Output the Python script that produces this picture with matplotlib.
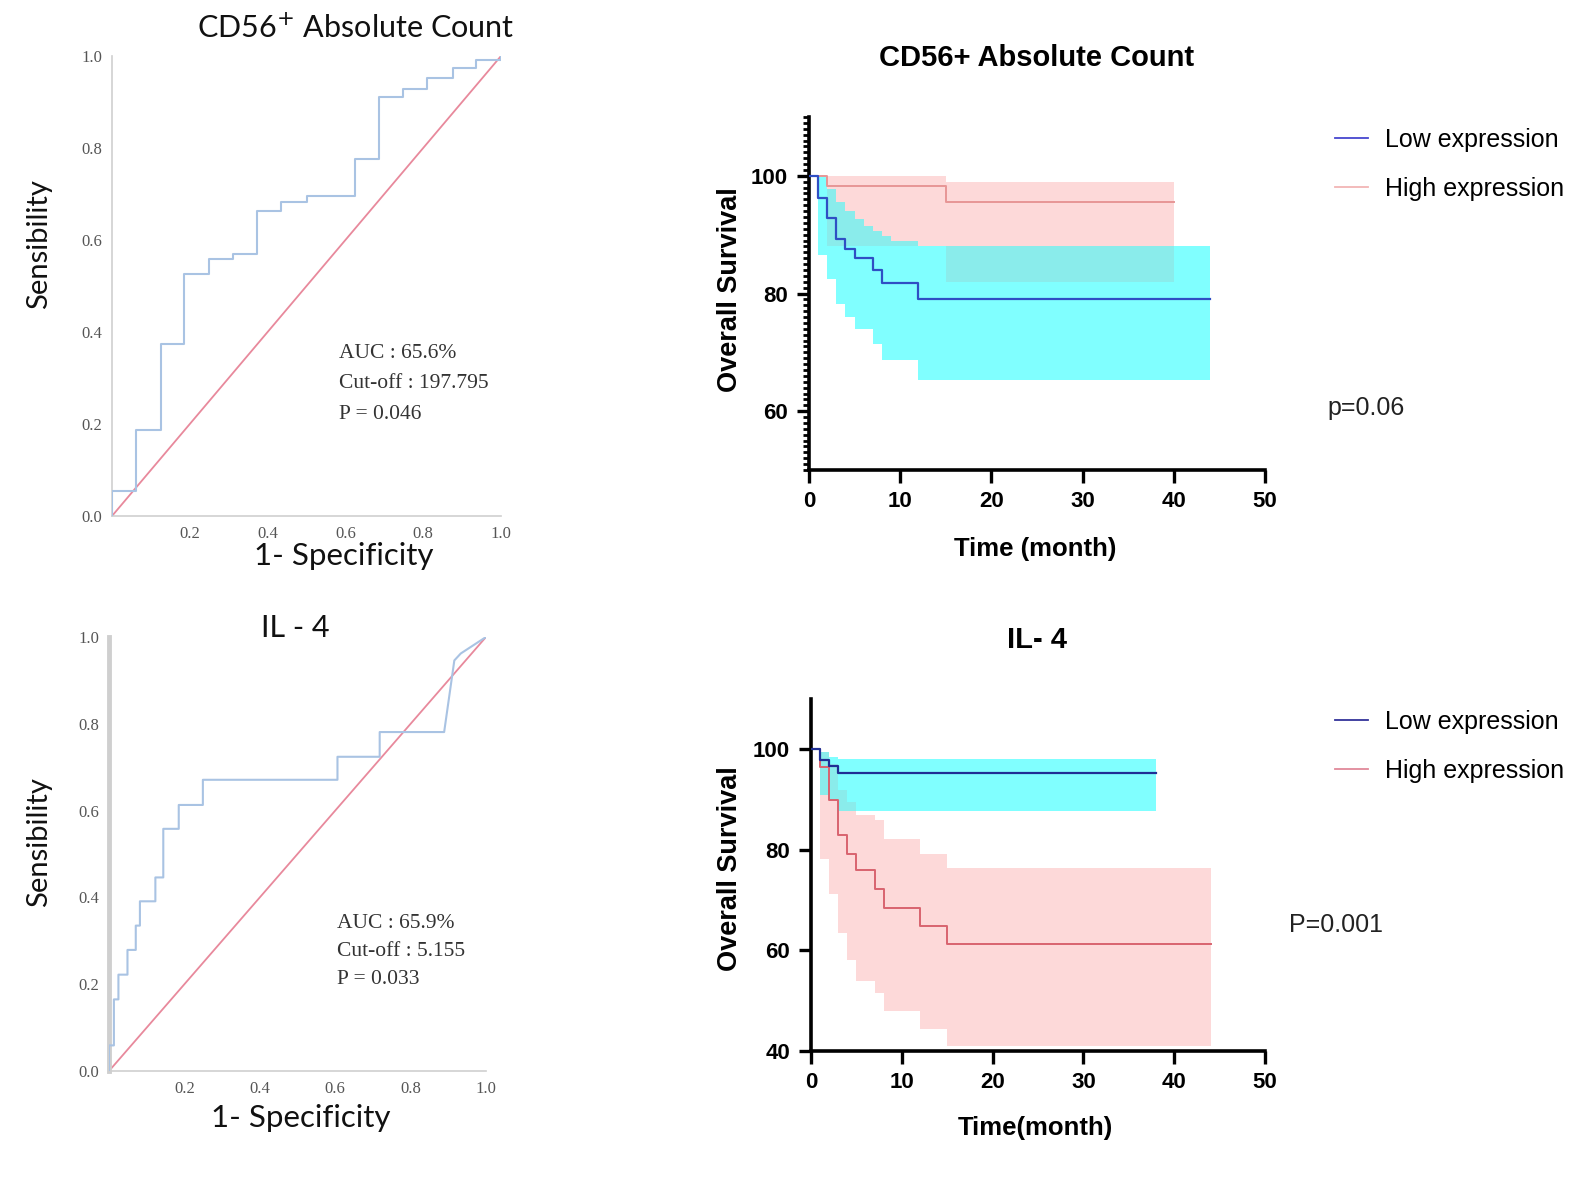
import numpy as np
import matplotlib
matplotlib.use("Agg")
import matplotlib.pyplot as plt
from matplotlib.lines import Line2D
from matplotlib.ticker import MultipleLocator

# ---------------- data ----------------
# ROC: CD56+ absolute count
roc1_fpr = [0, 0, 0.062, 0.062, 0.126, 0.126, 0.186, 0.186, 0.249, 0.249, 0.311, 0.311,
            0.373, 0.373, 0.435, 0.435, 0.500, 0.500, 0.624, 0.624, 0.687, 0.687, 0.749, 0.749,
            0.811, 0.811, 0.876, 0.876, 0.937, 0.937, 1.0, 1.0]
roc1_tpr = [0, 0.054, 0.054, 0.188, 0.188, 0.373, 0.373, 0.527, 0.527, 0.559, 0.559, 0.569,
            0.569, 0.663, 0.663, 0.683, 0.683, 0.696, 0.696, 0.776, 0.776, 0.910, 0.910, 0.929,
            0.929, 0.952, 0.952, 0.974, 0.974, 0.992, 0.992, 1.0]
roc1_stats = ["AUC : 65.6%", "Cut-off : 197.795", "P = 0.046"]

# ROC: IL-4
roc2_fpr = [0, 0, 0.013, 0.013, 0.025, 0.025, 0.049, 0.049, 0.071, 0.071, 0.082, 0.082,
            0.123, 0.123, 0.144, 0.144, 0.185, 0.185, 0.249, 0.249, 0.606, 0.606, 0.718, 0.718,
            0.889, 0.916, 0.933, 1.0]
roc2_tpr = [0, 0.059, 0.059, 0.165, 0.165, 0.222, 0.222, 0.279, 0.279, 0.335, 0.335, 0.391,
            0.391, 0.446, 0.446, 0.558, 0.558, 0.613, 0.613, 0.671, 0.671, 0.724, 0.724, 0.781,
            0.781, 0.946, 0.962, 1.0]
roc2_stats = ["AUC : 65.9%", "Cut-off : 5.155", "P = 0.033"]

# KM: CD56+ absolute count
km1_low_t = [0, 1, 2, 3, 4, 5, 7, 8, 12, 44]
km1_low_s = [100, 96.3, 92.8, 89.3, 87.5, 86.0, 84.0, 81.7, 79.1, 79.1]
km1_low_ci_t = [0, 1, 2, 3, 4, 5, 6, 7, 8, 9, 12, 44]
km1_low_up = [100, 99.8, 97.8, 95.5, 94.1, 92.6, 91.5, 90.7, 89.8, 88.9, 88.0, 88.0]
km1_low_lo = [100, 86.5, 82.5, 78.2, 76.0, 74.0, 74.0, 71.4, 68.7, 68.7, 65.3, 65.3]
km1_high_t = [0, 2, 15, 40]
km1_high_s = [100, 98.2, 95.5, 95.5]
km1_high_up = [100, 100, 98.9, 98.9]
km1_high_lo = [100, 88.0, 82.0, 82.0]
km1_p = "p=0.06"

# KM: IL-4
km2_low_t = [0, 1, 2, 3, 38]
km2_low_s = [100, 97.9, 96.7, 95.2, 95.2]
km2_low_up = [100, 99.5, 98.5, 98.1, 98.1]
km2_low_lo = [100, 90.9, 89.9, 87.7, 87.7]
km2_high_t = [0, 1, 2, 3, 4, 5, 7, 8, 12, 15, 44]
km2_high_s = [100, 96.5, 89.9, 82.9, 79.2, 76.0, 72.3, 68.5, 64.9, 61.3, 61.3]
km2_high_up = [100, 99.5, 97.0, 92.0, 89.5, 87.0, 86.0, 82.2, 79.2, 76.3, 76.3]
km2_high_lo = [100, 78.2, 71.2, 63.5, 58.0, 54.0, 51.5, 48.0, 44.3, 41.0, 41.0]
km2_p = "P=0.001"

legend_labels = ["Low expression", "High expression"]

# ---------------- styles ----------------
W, H = 1594, 1184
fig = plt.figure(figsize=(W / 100, H / 100), dpi=100)

ROC_FONT = ["Lato", "DejaVu Sans"]
SERIF = ["Liberation Serif", "DejaVu Serif"]
KM_FONT = ["Liberation Sans", "DejaVu Sans"]

CYAN = "#80ffff"
PINK = "#fdd9d9"
TEAL = "#8aeceb"


def fx(px):
    return px / W


def fy(py):
    return 1 - py / H


def roc_panel(rect, fpr, tpr, stats, title, title_xy, ylab_xy, xlab_xy, stat_xy,
              title_size, thick_left=False):
    ax = fig.add_axes(rect)
    ax.plot([0, 1], [0, 1], color="#e8899c", lw=1.3, zorder=2)
    ax.plot(fpr, tpr, color="#a9c3e3", lw=1.5, zorder=3)
    ax.set_xlim(0, 1)
    ax.set_ylim(0, 1)
    for s in ["top", "right"]:
        ax.spines[s].set_visible(False)
    ax.spines["bottom"].set_color("#cfcfcf")
    ax.spines["bottom"].set_linewidth(1.2)
    ax.spines["left"].set_color("#cfcfcf")
    ax.spines["left"].set_linewidth(3.5 if thick_left else 1.2)
    ax.set_xticks([0.2, 0.4, 0.6, 0.8, 1.0])
    ax.set_xticklabels(["0.2", "0.4", "0.6", "0.8", "1.0"])
    ax.set_yticks([0, 0.2, 0.4, 0.6, 0.8, 1.0])
    ax.set_yticklabels(["0.0", "0.2", "0.4", "0.6", "0.8", "1.0"])
    ax.tick_params(length=0, labelsize=12, labelcolor="#555555", pad=7)
    for lab in ax.get_xticklabels() + ax.get_yticklabels():
        lab.set_family(SERIF)
    fig.text(fx(title_xy[0]), fy(title_xy[1]), title, ha="center", va="center",
             fontsize=title_size, family=ROC_FONT, color="#111111")
    fig.text(fx(ylab_xy[0]), fy(ylab_xy[1]), "Sensibility", ha="center", va="center",
             rotation=90, fontsize=21, family=ROC_FONT, color="#111111")
    fig.text(fx(xlab_xy[0]), fy(xlab_xy[1]), "1- Specificity", ha="center", va="center",
             fontsize=22.5, family=ROC_FONT, color="#111111")
    for i, s in enumerate(stats):
        ax.text(stat_xy[0], stat_xy[1] - i * stat_xy[2], s, ha="left", va="center",
                fontsize=15.5, family=SERIF, color="#333333")
    return ax


def step_eval(t, v, grid):
    idx = np.searchsorted(np.asarray(t), grid, side="right") - 1
    idx = np.clip(idx, 0, len(v) - 1)
    return np.asarray(v)[idx]


def km_panel(rect, ylim, yticks, minor, low, high, low_col, high_col, title, xlabel, p_text,
             title_y, ylab_y, xlab_y, p_xy, leg_y, leg_cols):
    ax = fig.add_axes(rect)
    (lt, ls, lct, lup, llo), (ht, hs, hct, hup, hlo) = low, high
    ax.fill_between(hct, hlo, hup, step="post", color=PINK, lw=0, zorder=1)
    ax.fill_between(lct, llo, lup, step="post", color=CYAN, lw=0, zorder=2)
    # overlap of the two confidence bands
    end = min(lct[-1], hct[-1])
    grid = np.unique(np.concatenate([lct, hct]))
    grid = grid[grid <= end]
    lo = np.maximum(step_eval(lct, llo, grid), step_eval(hct, hlo, grid))
    up = np.minimum(step_eval(lct, lup, grid), step_eval(hct, hup, grid))
    up = np.maximum(up, lo)
    ax.fill_between(grid, lo, up, step="post", color=TEAL, lw=0, zorder=3)
    ax.step(ht, hs, where="post", color=high_col, lw=1.4, zorder=4)
    ax.step(lt, ls, where="post", color=low_col, lw=1.6, zorder=5)

    ax.set_xlim(0, 50)
    ax.set_ylim(*ylim)
    for s in ["top", "right"]:
        ax.spines[s].set_visible(False)
    for s in ["left", "bottom"]:
        ax.spines[s].set_linewidth(2.6)
        ax.spines[s].set_color("black")
    ax.set_xticks([0, 10, 20, 30, 40, 50])
    ax.set_yticks(yticks)
    if minor:
        ax.yaxis.set_minor_locator(MultipleLocator(1))
        ax.tick_params(axis="y", which="minor", length=4, width=2.0, direction="out")
    ax.tick_params(axis="both", which="major", length=9, width=2.4, direction="out",
                   labelsize=16, pad=6)
    for lab in ax.get_xticklabels() + ax.get_yticklabels():
        lab.set_family(KM_FONT)
        lab.set_fontweight("bold")
    fig.text(fx(1037), fy(title_y), title, ha="center", va="center", fontsize=21,
             fontweight="bold", family=KM_FONT)
    fig.text(fx(730), fy(ylab_y), "Overall Survival", ha="center", va="center",
             rotation=90, fontsize=19.5, fontweight="bold", family=KM_FONT)
    fig.text(fx(1035), fy(xlab_y), xlabel, ha="center", va="center",
             fontsize=18.5, fontweight="bold", family=KM_FONT)
    fig.text(fx(p_xy[0]), fy(p_xy[1]), p_text, ha="left", va="center", fontsize=18,
             family=KM_FONT, color="#222222")
    handles = [Line2D([], [], color=leg_cols[0], lw=1.3),
               Line2D([], [], color=leg_cols[1], lw=1.3)]
    fig.legend(handles, legend_labels, loc="upper left",
               bbox_to_anchor=(fx(1335), fy(leg_y)), bbox_transform=fig.transFigure,
               frameon=False, borderpad=0, borderaxespad=0, handlelength=1.3,
               handletextpad=0.7, labelspacing=1.0,
               prop={"family": KM_FONT, "size": 18})
    return ax


# ROC panels
roc_panel([fx(112), fy(516), fx(501) - fx(112), (516 - 56) / H],
          roc1_fpr, roc1_tpr, roc1_stats, r"CD56$^{+}$ Absolute Count",
          (356, 28), (39, 244), (344, 556), (0.584, 0.354, 0.067), 22)
roc_panel([fx(109), fy(1071), fx(486) - fx(109), (1071 - 637) / H],
          roc2_fpr, roc2_tpr, roc2_stats, "IL - 4",
          (295, 628), (39, 842), (301, 1118), (0.605, 0.341, 0.065), 22, thick_left=True)

# KM panels
km_panel([fx(809), fy(470), fx(1265) - fx(809), (470 - 117) / H], (50, 110), [60, 80, 100], True,
         (km1_low_t, km1_low_s, km1_low_ci_t, km1_low_up, km1_low_lo),
         (km1_high_t, km1_high_s, km1_high_t, km1_high_up, km1_high_lo),
         "#2f4fc4", "#e79696", "CD56+ Absolute Count", "Time (month)", km1_p,
         58, 290, 549, (1327, 408), 128, ("#4747cf", "#f2b5b5"))
km_panel([fx(811), fy(1051), fx(1265) - fx(811), (1051 - 699) / H], (40, 110), [40, 60, 80, 100], False,
         (km2_low_t, km2_low_s, km2_low_t, km2_low_up, km2_low_lo),
         (km2_high_t, km2_high_s, km2_high_t, km2_high_up, km2_high_lo),
         "#1f2f95", "#d9636f", "IL- 4", "Time(month)", km2_p,
         640, 869, 1128, (1289, 925), 710, ("#33339a", "#e0899a"))

fig.savefig("out.png", dpi=100, facecolor="white")
